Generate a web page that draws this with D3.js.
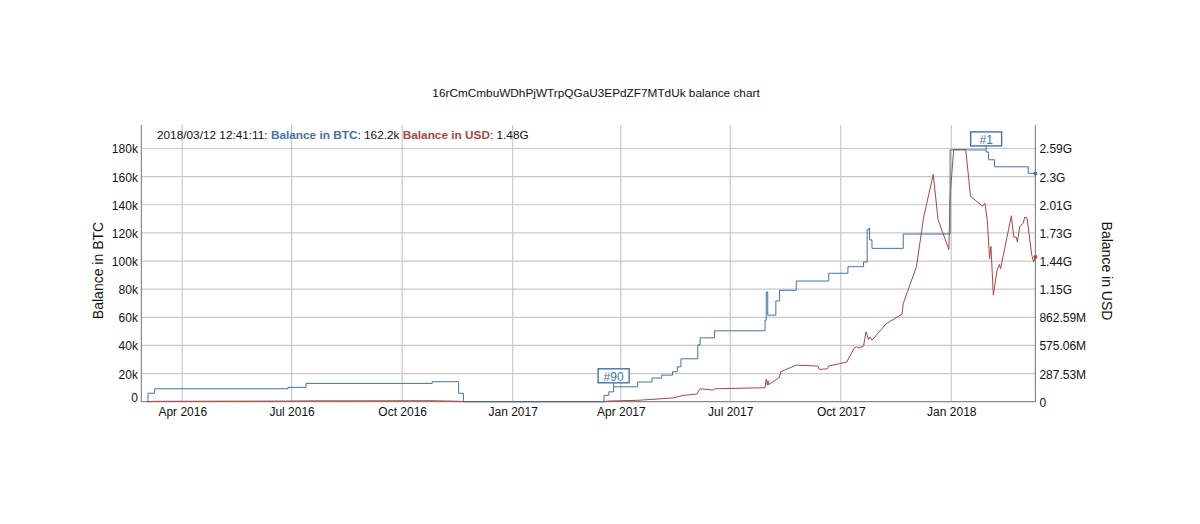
<!DOCTYPE html>
<html><head><meta charset="utf-8">
<script src="https://cdn.jsdelivr.net/npm/d3@7"></script>
<style>
html,body{margin:0;padding:0;background:#fff}
svg{display:block}
text{font-family:"Liberation Sans",Arial,sans-serif;fill:#111}
</style></head><body>
<div id="chart"></div>
<script>
const chartTitle = "16rCmCmbuWDhPjWTrpQGaU3EPdZF7MTdUk balance chart";
const btcLabel = "Balance in BTC";
const usdLabel = "Balance in USD";
const legendDate = "2018/03/12 12:41:11";
const legendBtc = "162.2k";
const legendUsd = "1.48G";
const xTickDates = ["2016-04-01","2016-07-01","2016-10-01","2017-01-01","2017-04-01","2017-07-01","2017-10-01","2018-01-01"];
const xTickLabels = ["Apr 2016","Jul 2016","Oct 2016","Jan 2017","Apr 2017","Jul 2017","Oct 2017","Jan 2018"];
const btcTicks = [0,20000,40000,60000,80000,100000,120000,140000,160000,180000];
const btcTickLabels = ["0","20k","40k","60k","80k","100k","120k","140k","160k","180k"];
const usdTicks = [0,287.53,575.06,862.59,1150.12,1437.65,1725.18,2012.71,2300.24,2587.77];
const usdTickLabels = ["0","287.53M","575.06M","862.59M","1.15G","1.44G","1.73G","2.01G","2.3G","2.59G"];

const btcDates = ["2016-03-03","2016-03-03T12:00","2016-03-09","2016-06-28","2016-07-13","2016-10-26","2016-11-17","2016-11-21","2017-03-18","2017-03-22","2017-03-26","2017-04-15","2017-04-27","2017-05-05","2017-05-14","2017-05-18","2017-05-21","2017-06-04","2017-06-06","2017-06-18","2017-07-30","2017-07-31","2017-08-01T06:00","2017-08-08","2017-08-11","2017-08-25","2017-09-21","2017-10-07","2017-10-20","2017-10-23","2017-10-24T12:00","2017-10-25","2017-10-27","2017-11-22","2017-12-31","2018-01-30","2018-02-01","2018-02-06","2018-03-06","2018-03-12"];
const btcValues = [0,6000,9200,10200,13000,14200,6000,0,4500,7000,10600,14000,16800,18900,21300,24800,30500,40400,45400,50400,57900,78000,61500,71600,79200,85800,91300,96000,99300,122300,123500,115000,109000,119200,179000,177500,172000,167000,162400,162200];

const usdDates = ["2016-03-03","2016-03-09","2016-06-28","2016-07-13","2016-10-26","2016-11-17","2016-11-21","2017-03-18","2017-03-22","2017-04-15","2017-05-14","2017-05-23","2017-06-03","2017-06-06","2017-06-17","2017-06-18","2017-07-30","2017-07-31","2017-08-01","2017-08-01T12:00","2017-08-02","2017-08-11","2017-08-12","2017-08-25","2017-09-12","2017-09-13","2017-09-20","2017-09-21","2017-10-06","2017-10-12","2017-10-14","2017-10-16","2017-10-20","2017-10-22","2017-10-23","2017-10-24","2017-10-25","2017-10-27","2017-11-08","2017-11-21","2017-11-22","2017-12-03","2017-12-09","2017-12-17","2017-12-21","2017-12-30","2017-12-31","2018-01-03","2018-01-13","2018-01-17","2018-01-27","2018-01-29","2018-01-31","2018-02-01T20:00","2018-02-03","2018-02-05","2018-02-08","2018-02-10","2018-02-11","2018-02-20","2018-02-22","2018-02-24","2018-02-25","2018-02-27","2018-03-02","2018-03-03","2018-03-05","2018-03-09","2018-03-10T12:00","2018-03-12"];
const usdValues = [0,3.8,6.5,8.5,10,4.5,0,0,7,14,38,65,78,132,119,132,143,231,170,214,173,249,306,374,364,330,336,364,405,544,561,548,568,714,680,636,663,629,799,894,1003,1380,1886,2322,1860,1554,2100,2577,2577,2100,1998,2029,1853,1462,1587,1088,1336,1404,1360,1900,1682,1682,1631,1791,1825,1886,1880,1496,1427,1480];

const flagLabels = ["#90","#1"];
const flagDates = ["2017-03-26","2018-01-30"];
const flagValues = [10600,179000];

(function(){
const parse = s => new Date(s.length > 10 ? s + ":00Z" : s + "T00:00:00Z");
const W = 1200, H = 524;
const mL = 141.4, mR = 1035.4, mT = 125, mB = 401.7, yTop = 148.5;
const BLUE = "#4572A7", RED = "#AA4643", GRID = "#c9c9c9", AXIS = "#8a8a8a";

const x = d3.scaleUtc().domain([parse("2016-02-27"), parse("2018-03-12")]).range([mL, mR]);
const yB = d3.scaleLinear().domain([0,180000]).range([mB,yTop]);
const yU = d3.scaleLinear().domain([0,2587.77]).range([mB,yTop]);

const svg = d3.select("#chart").append("svg").attr("width",W).attr("height",H);
const fs = 12;

svg.append("text").attr("x",596).attr("y",96.5).attr("text-anchor","middle").attr("font-size",11.8).text(chartTitle);

// grid
const g = svg.append("g").attr("stroke",GRID).attr("stroke-width",1.2);
g.selectAll(".h").data(btcTicks.slice(1)).join("line").attr("class","h")
  .attr("x1",mL).attr("x2",mR).attr("y1",d=>yB(d)).attr("y2",d=>yB(d));
g.selectAll(".v").data(xTickDates).join("line").attr("class","v")
  .attr("x1",d=>x(parse(d))).attr("x2",d=>x(parse(d))).attr("y1",mT).attr("y2",mB);

// axes
function style(a){ a.select(".domain").remove(); a.selectAll(".tick line").remove();
  a.selectAll("text").attr("font-size",fs).attr("fill","#111").style("font-family",'"Liberation Sans",Arial,sans-serif'); }
svg.append("g").attr("transform",`translate(0,${mB})`)
  .call(d3.axisBottom(x).tickValues(xTickDates.map(parse)).tickSize(0).tickPadding(5.5)
    .tickFormat((d,i)=>xTickLabels[i])).call(style);
const al = svg.append("g").attr("transform",`translate(${mL},0)`)
  .call(d3.axisLeft(yB).tickValues(btcTicks).tickSize(0).tickPadding(3.5)
    .tickFormat((d,i)=>btcTickLabels[i])).call(style);
al.selectAll("text").attr("dy","0.37em");
al.selectAll("text").filter(d=>d===0).attr("dy","-0.05em");
const ar = svg.append("g").attr("transform",`translate(${mR},0)`)
  .call(d3.axisRight(yU).tickValues(usdTicks).tickSize(0).tickPadding(4)
    .tickFormat((d,i)=>usdTickLabels[i])).call(style);
ar.selectAll("text").attr("dy","0.37em");

const border = [[mL,mL,mT,mB],[mR,mR,mT,mB],[mL,mR,mB,mB]];
svg.append("g").selectAll("line").data(border).join("line")
  .attr("x1",d=>d[0]).attr("x2",d=>d[1]).attr("y1",d=>d[2]).attr("y2",d=>d[3])
  .attr("stroke",AXIS).attr("stroke-width",1.2);

// axis titles
svg.append("text").attr("transform","translate(103,270.5) rotate(-90)").attr("text-anchor","middle").attr("font-size",14).text(btcLabel);
svg.append("text").attr("transform","translate(1102,271) rotate(90)").attr("text-anchor","middle").attr("font-size",14).text(usdLabel);

// series
const usdLine = d3.line().x((d,i)=>x(parse(usdDates[i]))).y(d=>yU(d));
const btcLine = d3.line().curve(d3.curveStepAfter).x((d,i)=>x(parse(btcDates[i]))).y(d=>yB(d));
svg.append("path").attr("d",usdLine(usdValues)).attr("fill","none").attr("stroke",RED).attr("stroke-width",1);
svg.append("path").attr("d",btcLine(btcValues)).attr("fill","none").attr("stroke",BLUE).attr("stroke-width",1);
svg.append("circle").attr("cx",x(parse(btcDates.at(-1)))).attr("cy",yB(btcValues.at(-1))).attr("r",2).attr("fill",BLUE);
svg.append("circle").attr("cx",x(parse(usdDates.at(-1)))).attr("cy",yU(usdValues.at(-1))).attr("r",2).attr("fill",RED);

// flags
const fl = svg.append("g").selectAll("g").data(flagLabels).join("g")
  .attr("transform",(d,i)=>`translate(${x(parse(flagDates[i]))},${yB(flagValues[i])})`);
fl.append("line").attr("y1",-4).attr("y2",0).attr("stroke",BLUE);
fl.append("rect").attr("x",-15.5).attr("y",-18).attr("width",31).attr("height",14).attr("fill","#fff").attr("stroke",BLUE).attr("stroke-width",1.4);
fl.append("text").attr("y",-5.5).attr("text-anchor","middle").attr("font-size",fs).style("fill",BLUE).text(d=>d);

// legend
const lg = svg.append("text").attr("x",157).attr("y",139).attr("font-size",11.8);
lg.append("tspan").text(legendDate + ": ");
lg.append("tspan").attr("font-weight","bold").style("fill",BLUE).text(btcLabel);
lg.append("tspan").text(": " + legendBtc + " ");
lg.append("tspan").attr("font-weight","bold").style("fill",RED).text(usdLabel);
lg.append("tspan").text(": " + legendUsd);
})();
</script>
</body></html>
